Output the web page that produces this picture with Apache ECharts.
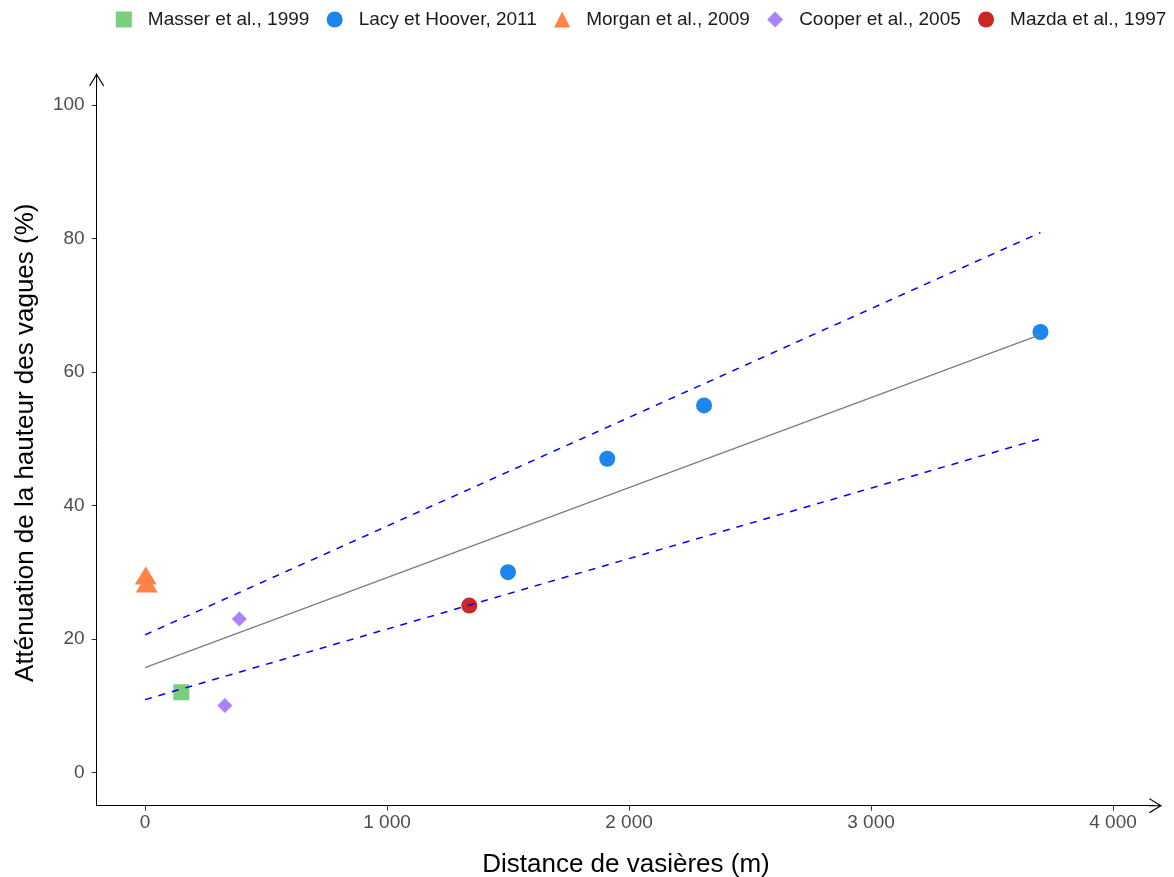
<!DOCTYPE html>
<html>
<head>
<meta charset="utf-8">
<script src="https://cdn.jsdelivr.net/npm/echarts@6/dist/echarts.min.js"></script>
<style>
html,body{margin:0;padding:0;background:#fff;}
#chart{width:1174px;height:877px;}
</style>
</head>
<body>
<div id="chart"></div>
<script>
// ---- data ----
const seriesNames = ['Masser et al., 1999', 'Lacy et Hoover, 2011', 'Morgan et al., 2009', 'Cooper et al., 2005', 'Mazda et al., 1997'];
const masser = [[150, 12]];
const lacy = [[1500, 30], [1910, 47], [2310, 55], [3700, 66]];
const morgan = [[3, 29.5], [7, 28.3]];
const cooper = [[390, 23], [330, 10]];
const mazda = [[1340, 25]];
const fitX = [0, 3700];
const fitY = [15.7, 65.6];
const upperY = [20.6, 80.9];
const lowerY = [10.9, 50.0];
const xTicks = [0, 1000, 2000, 3000, 4000];
const yTicks = [0, 20, 40, 60, 80, 100];

const FONT = '"Liberation Sans", Arial, sans-serif';
const arrow = 'path://M75 0 L150 122 L141 130 L75 22 L9 130 L0 122 Z M70 0 L80 0 L80 130 L70 130 Z';
const pair = (xs, ys) => xs.map((x, i) => [x, ys[i]]);
const fmt = v => String(v).replace(/\B(?=(\d{3})+(?!\d))/g, ' ');

const chart = echarts.init(document.getElementById('chart'), null, {renderer: 'canvas'});

const axisCommon = {
  type: 'value',
  splitLine: {show: false},
  axisLine: {show: true, onZero: false, symbol: ['none', arrow], symbolSize: [15, 13],
    lineStyle: {color: '#000', width: 1}},
  axisTick: {show: true, length: 5, lineStyle: {color: '#333', width: 1}},
  axisLabel: {color: '#4d4d4d', fontSize: 19, fontFamily: FONT},
  nameTextStyle: {color: '#000', fontSize: 26, fontFamily: FONT},
  nameLocation: 'middle'
};

chart.setOption({
  animation: false,
  backgroundColor: '#fff',
  textStyle: {fontFamily: FONT},
  grid: {left: 96.6, right: 18.6, top: 79.8, bottom: 71.3, containLabel: false, outerBoundsMode: 'none'},
  legend: {
    data: seriesNames.map((n, i) => ({name: n, icon: ['rect', 'circle', 'triangle', 'diamond', 'circle'][i]})),
    left: 110.8, top: 5,
    itemWidth: 16, itemHeight: 16, itemGap: 17.3,
    symbolKeepAspect: true,
    textStyle: {fontSize: 19, color: '#1a1a1a', fontFamily: FONT, padding: [0, 0, 0, 11]}
  },
  xAxis: Object.assign({}, axisCommon, {
    min: -200, max: 4175,
    name: 'Distance de vasières (m)', nameGap: 46,
    axisTick: Object.assign({}, axisCommon.axisTick, {customValues: xTicks}),
    axisLabel: Object.assign({}, axisCommon.axisLabel, {customValues: xTicks, margin: 8, formatter: fmt})
  }),
  yAxis: Object.assign({}, axisCommon, {
    min: -5, max: 103.8,
    name: 'Atténuation de la hauteur des vagues (%)', nameGap: 58, nameRotate: 90,
    axisTick: Object.assign({}, axisCommon.axisTick, {customValues: yTicks}),
    axisLabel: Object.assign({}, axisCommon.axisLabel, {customValues: yTicks, margin: 12})
  }),
  series: [
    {name: seriesNames[0], type: 'scatter', data: masser, symbol: 'rect', symbolSize: 16,
      itemStyle: {color: '#7CCD7C', opacity: 1}, z: 2},
    {name: seriesNames[1], type: 'scatter', data: lacy, symbol: 'circle', symbolSize: 16,
      itemStyle: {color: '#1C86EE', opacity: 1}, z: 2},
    {name: seriesNames[2], type: 'scatter', data: morgan, symbol: 'triangle', symbolSize: [22, 18],
      itemStyle: {color: '#FF8247', opacity: 1}, z: 2},
    {name: seriesNames[3], type: 'scatter', data: cooper, symbol: 'diamond', symbolSize: 15,
      itemStyle: {color: '#AB82FF', opacity: 1}, z: 2},
    {name: seriesNames[4], type: 'scatter', data: mazda, symbol: 'circle', symbolSize: 16,
      itemStyle: {color: '#CD2626', opacity: 1}, z: 2},
    {name: 'fit', type: 'line', data: pair(fitX, fitY), showSymbol: false, symbol: 'none',
      lineStyle: {color: '#7f7f7f', width: 1.5}, z: 5, silent: true},
    {name: 'upper', type: 'line', data: pair(fitX, upperY), showSymbol: false, symbol: 'none',
      lineStyle: {color: '#0000ff', width: 1.5, type: [7, 7]}, z: 5, silent: true},
    {name: 'lower', type: 'line', data: pair(fitX, lowerY), showSymbol: false, symbol: 'none',
      lineStyle: {color: '#0000ff', width: 1.5, type: [7, 7]}, z: 5, silent: true}
  ]
});
</script>
</body>
</html>
